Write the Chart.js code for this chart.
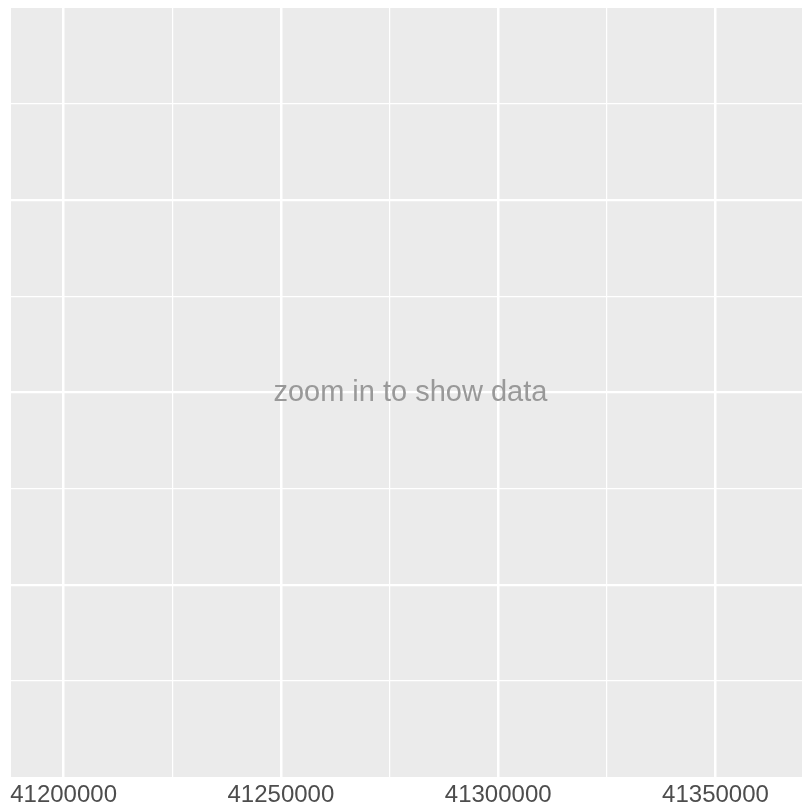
<!DOCTYPE html>
<html>
<head>
<meta charset="utf-8">
<script src="https://cdn.jsdelivr.net/npm/chart.js@4"></script>
<style>
  html, body { margin: 0; padding: 0; background: #fff; }
  #wrap { width: 803px; height: 810px; }
</style>
</head>
<body>
<div id="wrap"><canvas id="myChart"></canvas></div>
<script>
'use strict';
// axis ranges and ticks
const xMin = 41187900;
const xMax = 41369900;
const xMajor = [41200000, 41250000, 41300000, 41350000];
const xMinor = [41225000, 41275000, 41325000];
const yMin = 0;
const yMax = 4;
const yMajor = [1, 2, 3];
const yMinor = [0.5, 1.5, 2.5, 3.5];
const message = 'zoom in to show data';
const messagePos = [41279800, 2];

function tickList(major, minor) {
  return major.concat(minor).sort(function(a, b) { return a - b; }).map(function(v) {
    return {value: v};
  });
}

const panelBg = {
  id: 'panelBg',
  beforeDraw(chart) {
    const a = chart.chartArea;
    const c = chart.ctx;
    c.save();
    c.fillStyle = '#EBEBEB';
    c.fillRect(a.left, a.top, a.right - a.left, a.bottom - a.top);
    c.restore();
  }
};

const note = {
  id: 'note',
  afterDraw(chart) {
    const c = chart.ctx;
    const x = chart.scales.x.getPixelForValue(messagePos[0]);
    const y = chart.scales.y.getPixelForValue(messagePos[1]);
    c.save();
    c.fillStyle = '#999999';
    c.font = '29px "Liberation Sans", Arial, sans-serif';
    c.textAlign = 'center';
    c.textBaseline = 'middle';
    c.fillText(message, x, y);
    c.restore();
  }
};

let ctx = document.getElementById('myChart').getContext('2d');
let chart = new Chart(ctx, {
  type: 'scatter',
  data: {
    datasets: [{ data: [] }]
  },
  options: {
    responsive: true,
    maintainAspectRatio: false,
    animation: false,
    layout: { padding: { left: 11, top: 8, right: 1, bottom: 0 } },
    plugins: { legend: { display: false }, tooltip: { enabled: false } },
    scales: {
      x: {
        type: 'linear',
        min: xMin,
        max: xMax,
        afterBuildTicks(scale) { scale.ticks = tickList(xMajor, xMinor); },
        afterFit(scale) { scale.height = 33; },
        border: { display: false },
        grid: {
          color: '#FFFFFF',
          drawTicks: false,
          lineWidth(c) { return xMajor.includes(c.tick && c.tick.value) ? 2.5 : 1.2; }
        },
        ticks: {
          autoSkip: false,
          maxRotation: 0,
          padding: 4,
          color: '#4D4D4D',
          font: { family: '"Liberation Sans", Arial, sans-serif', size: 24 },
          callback(v) { return xMajor.includes(v) ? String(v) : ''; }
        }
      },
      y: {
        type: 'linear',
        min: yMin,
        max: yMax,
        afterBuildTicks(scale) { scale.ticks = tickList(yMajor, yMinor); },
        afterFit(scale) { scale.width = 0; },
        border: { display: false },
        grid: {
          color: '#FFFFFF',
          drawTicks: false,
          lineWidth(c) { return yMajor.includes(c.tick && c.tick.value) ? 2.3 : 1.3; }
        },
        ticks: { display: false }
      }
    }
  },
  plugins: [panelBg, note]
});
</script>
</body>
</html>
